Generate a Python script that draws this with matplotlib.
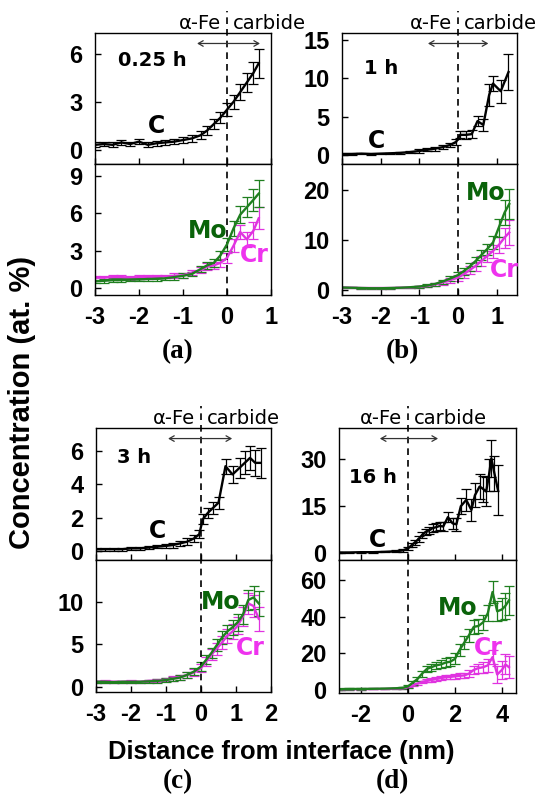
import matplotlib
matplotlib.use('Agg')
import matplotlib.pyplot as plt

plt.rcParams['axes.unicode_minus'] = False

# ---- panel (a) 0.25 h ----
x_a = [-3.0, -2.8, -2.6, -2.4, -2.2, -2.0, -1.8, -1.6, -1.4, -1.2, -1.0, -0.8,
       -0.6, -0.45, -0.3, -0.15, 0.0, 0.15, 0.3, 0.45, 0.6, 0.72]
c_a = [0.3, 0.35, 0.3, 0.45, 0.35, 0.5, 0.3, 0.4, 0.45, 0.5, 0.6, 0.7,
       0.9, 1.2, 1.6, 2.0, 2.5, 3.0, 3.6, 4.2, 4.8, 5.4]
c_a_err = [0.15, 0.15, 0.15, 0.15, 0.15, 0.15, 0.15, 0.15, 0.15, 0.15, 0.2, 0.2,
           0.25, 0.3, 0.3, 0.35, 0.4, 0.45, 0.5, 0.6, 0.7, 0.9]
mo_a = [0.5, 0.55, 0.6, 0.6, 0.65, 0.65, 0.7, 0.7, 0.75, 0.85, 0.95, 1.1,
        1.5, 1.8, 2.0, 2.6, 3.5, 4.8, 5.9, 6.5, 7.1, 7.6]
mo_a_err = [0.15, 0.15, 0.15, 0.15, 0.15, 0.15, 0.15, 0.15, 0.15, 0.2, 0.2, 0.2,
            0.25, 0.3, 0.35, 0.4, 0.5, 0.6, 0.7, 0.8, 0.9, 1.1]
cr_a = [0.8, 0.8, 0.85, 0.85, 0.8, 0.85, 0.85, 0.9, 0.9, 0.95, 1.0, 1.2,
        1.4, 1.7, 1.8, 2.0, 2.4, 3.4, 4.5, 3.9, 4.6, 5.6]
cr_a_err = [0.15, 0.15, 0.15, 0.15, 0.15, 0.15, 0.15, 0.15, 0.15, 0.2, 0.2, 0.2,
            0.25, 0.3, 0.3, 0.35, 0.4, 0.5, 0.6, 0.6, 0.7, 0.9]

# ---- panel (b) 1 h ----
xc_b = [-3.0, -2.75, -2.5, -2.25, -2.0, -1.75, -1.5, -1.25, -1.0, -0.8, -0.6, -0.4,
        -0.2, -0.05, 0.05, 0.2, 0.35, 0.5, 0.65, 0.8, 0.9, 1.1, 1.3]
c_b = [0.1, 0.1, 0.15, 0.1, 0.15, 0.2, 0.25, 0.35, 0.5, 0.65, 0.8, 1.0,
       1.3, 1.7, 2.6, 2.6, 2.7, 4.4, 3.9, 7.8, 9.3, 8.3, 10.8]
c_b_err = [0.1, 0.1, 0.1, 0.1, 0.1, 0.1, 0.1, 0.15, 0.2, 0.2, 0.25, 0.3,
           0.3, 0.4, 0.45, 0.5, 0.5, 0.7, 0.8, 1.4, 1.0, 1.5, 2.4]
xm_b = [-3.0, -2.75, -2.5, -2.25, -2.0, -1.75, -1.5, -1.25, -1.0, -0.8, -0.6, -0.4,
        -0.2, 0.0, 0.15, 0.3, 0.45, 0.6, 0.75, 0.9, 1.05, 1.2, 1.32]
mo_b = [0.5, 0.45, 0.4, 0.35, 0.35, 0.4, 0.45, 0.55, 0.7, 0.9, 1.2, 1.7,
        2.3, 3.0, 3.8, 4.7, 5.8, 7.0, 8.2, 9.5, 12.5, 15.5, 17.2]
mo_b_err = [0.1, 0.1, 0.1, 0.1, 0.1, 0.1, 0.1, 0.15, 0.2, 0.25, 0.3, 0.4,
            0.5, 0.6, 0.7, 0.8, 0.9, 1.0, 1.1, 1.3, 1.8, 2.5, 3.0]
cr_b = [0.5, 0.45, 0.4, 0.4, 0.4, 0.4, 0.45, 0.5, 0.65, 0.8, 1.1, 1.5,
        2.0, 2.5, 3.2, 4.0, 4.8, 5.8, 6.8, 7.8, 9.0, 10.5, 11.5]
cr_b_err = [0.1, 0.1, 0.1, 0.1, 0.1, 0.1, 0.1, 0.15, 0.2, 0.25, 0.3, 0.4,
            0.5, 0.6, 0.7, 0.8, 0.9, 1.0, 1.1, 1.3, 1.6, 2.0, 2.5]

# ---- panel (c) 3 h ----
xc_c = [-3.0, -2.75, -2.5, -2.25, -2.0, -1.75, -1.5, -1.25, -1.0, -0.8, -0.6, -0.4,
        -0.2, -0.05, 0.05, 0.2, 0.35, 0.5, 0.7, 0.9, 1.1, 1.25, 1.4, 1.55, 1.7]
c_c = [0.1, 0.1, 0.1, 0.1, 0.15, 0.15, 0.2, 0.25, 0.3, 0.35, 0.45, 0.55,
       0.75, 1.0, 1.9, 2.3, 2.6, 2.9, 5.1, 4.6, 5.0, 5.3, 5.6, 5.3, 5.3]
c_c_err = [0.1, 0.1, 0.1, 0.1, 0.1, 0.1, 0.1, 0.1, 0.1, 0.15, 0.15, 0.2,
           0.2, 0.25, 0.3, 0.3, 0.35, 0.35, 0.45, 0.5, 0.6, 0.7, 0.7, 0.8, 0.9]
xm_c = [-3.0, -2.75, -2.5, -2.25, -2.0, -1.75, -1.5, -1.25, -1.0, -0.8, -0.6, -0.4,
        -0.2, 0.0, 0.15, 0.3, 0.45, 0.6, 0.75, 0.9, 1.05, 1.2, 1.35, 1.5, 1.65]
mo_c = [0.6, 0.6, 0.55, 0.6, 0.6, 0.6, 0.65, 0.7, 0.8, 0.95, 1.1, 1.4,
        1.8, 2.4, 3.2, 4.0, 4.9, 5.8, 6.5, 7.0, 7.6, 8.5, 10.2, 10.5, 9.8]
mo_c_err = [0.15, 0.15, 0.15, 0.15, 0.15, 0.15, 0.15, 0.2, 0.2, 0.25, 0.3, 0.35,
            0.4, 0.5, 0.55, 0.6, 0.7, 0.75, 0.8, 0.9, 1.0, 1.1, 1.2, 1.4, 1.5]
cr_c = [0.6, 0.65, 0.6, 0.6, 0.65, 0.6, 0.7, 0.75, 0.85, 1.0, 1.15, 1.4,
        1.7, 2.2, 3.0, 3.8, 4.5, 5.2, 6.0, 6.5, 7.2, 8.3, 9.8, 9.5, 8.0]
cr_c_err = [0.15, 0.15, 0.15, 0.15, 0.15, 0.15, 0.15, 0.2, 0.2, 0.25, 0.3, 0.35,
            0.4, 0.5, 0.55, 0.6, 0.7, 0.75, 0.8, 0.9, 1.0, 1.1, 1.2, 1.3, 1.4]

# ---- panel (d) 16 h ----
xc_d = [-3.0, -2.5, -2.0, -1.5, -1.0, -0.5, -0.2, 0.0, 0.15, 0.3, 0.45, 0.6,
        0.75, 0.9, 1.05, 1.2, 1.35, 1.5, 1.7, 1.9, 2.06, 2.25, 2.48, 2.7,
        2.85, 3.05, 3.2, 3.33, 3.45, 3.55, 3.68, 3.83]
c_d = [0.2, 0.2, 0.3, 0.3, 0.4, 0.6, 0.9, 1.5, 2.5, 3.5, 4.5, 5.8,
       6.8, 7.3, 8.0, 8.3, 8.7, 8.5, 11.5, 9.5, 9.2, 15.0, 17.0, 13.8,
       18.5, 21.3, 20.5, 19.7, 25.0, 30.3, 25.5, 20.2]
c_d_err = [0.2, 0.2, 0.2, 0.2, 0.2, 0.3, 0.4, 0.5, 0.7, 0.8, 0.9, 1.0,
           1.0, 1.1, 1.2, 1.2, 1.3, 1.4, 1.6, 1.8, 2.0, 2.6, 3.5, 3.6,
           3.8, 4.0, 4.2, 4.5, 5.0, 6.0, 5.5, 8.0]
xm_d = [-3.0, -2.5, -2.0, -1.5, -1.0, -0.5, -0.2, 0.0, 0.2, 0.4, 0.6, 0.8,
        1.0, 1.2, 1.4, 1.6, 1.8, 2.0, 2.2, 2.4, 2.6, 2.8, 3.0, 3.2,
        3.4, 3.6, 3.8, 4.0, 4.15, 4.3]
mo_d = [0.5, 0.6, 0.6, 0.7, 0.8, 1.0, 1.3, 2.0, 4.0, 6.0, 9.0, 11.5,
        12.5, 13.5, 14.0, 15.0, 15.5, 17.0, 22.0, 26.0, 30.0, 34.5, 35.0, 37.0,
        42.0, 53.5, 43.0, 44.0, 46.0, 49.0]
mo_d_err = [0.3, 0.3, 0.3, 0.3, 0.3, 0.4, 0.5, 0.8, 1.0, 1.3, 1.6, 1.8,
            2.0, 2.0, 2.2, 2.4, 2.6, 3.0, 3.2, 3.4, 3.6, 3.8, 4.0, 4.2,
            4.5, 6.0, 5.5, 6.0, 7.0, 8.0]
cr_d = [0.5, 0.5, 0.5, 0.6, 0.6, 0.8, 1.0, 1.5, 2.5, 3.5, 4.5, 5.0,
        5.5, 6.0, 6.5, 7.0, 7.2, 7.5, 7.8, 8.0, 9.0, 11.0, 12.0, 12.5,
        13.5, 18.0, 8.5, 11.0, 14.0, 12.5]
cr_d_err = [0.2, 0.2, 0.2, 0.2, 0.2, 0.3, 0.3, 0.4, 0.5, 0.6, 0.7, 0.8,
            0.9, 1.0, 1.0, 1.1, 1.2, 1.3, 1.4, 1.5, 1.7, 2.0, 2.5, 3.0,
            3.5, 4.0, 4.5, 5.0, 5.5, 6.0]

panels = [
    dict(box=(95, 33, 271, 164, 295), xlim=(-3, 1.0), xticks=[-3, -2, -1, 0, 1],
         top_ylim=(-0.9, 7.3), top_yticks=[0, 3, 6], bot_ylim=(-0.6, 10.0), bot_yticks=[0, 3, 6, 9],
         xc=x_a, c=c_a, ce=c_a_err, xm=x_a, mo=mo_a, moe=mo_a_err, cr=cr_a, cre=cr_a_err,
         time='0.25 h', time_xy=(-1.7, 5.6), c_xy=(-1.6, 1.5), mo_xy=(-0.45, 4.6), cr_xy=(0.62, 2.6),
         arrow=(-0.68, 0.75), letter='(a)', letter_xy=(178, 352)),
    dict(box=(342, 33, 517, 164, 295), xlim=(-3, 1.52), xticks=[-3, -2, -1, 0, 1],
         top_ylim=(-1.2, 15.9), top_yticks=[0, 5, 10, 15], bot_ylim=(-1.0, 25.2), bot_yticks=[0, 10, 20],
         xc=xc_b, c=c_b, ce=c_b_err, xm=xm_b, mo=mo_b, moe=mo_b_err, cr=cr_b, cre=cr_b_err,
         time='1 h', time_xy=(-2.0, 11.3), c_xy=(-2.1, 1.8), mo_xy=(0.7, 19.4), cr_xy=(1.2, 4.0),
         arrow=(-0.78, 0.78), letter='(b)', letter_xy=(402, 352)),
    dict(box=(96, 428, 271, 560, 692), xlim=(-3, 2.0), xticks=[-3, -2, -1, 0, 1, 2],
         top_ylim=(-0.55, 7.4), top_yticks=[0, 2, 4, 6], bot_ylim=(-0.6, 14.9), bot_yticks=[0, 5, 10],
         xc=xc_c, c=c_c, ce=c_c_err, xm=xm_c, mo=mo_c, moe=mo_c_err, cr=cr_c, cre=cr_c_err,
         time='3 h', time_xy=(-1.9, 5.6), c_xy=(-1.25, 1.2), mo_xy=(0.55, 10.0), cr_xy=(1.4, 4.6),
         arrow=(-0.94, 0.89), letter='(c)', letter_xy=(178, 782)),
    dict(box=(339, 428, 516, 560, 693), xlim=(-2.94, 4.6), xticks=[-2, 0, 2, 4],
         top_ylim=(-2.2, 40), top_yticks=[0, 15, 30], bot_ylim=(-1.6, 71), bot_yticks=[0, 20, 40, 60],
         xc=xc_d, c=c_d, ce=c_d_err, xm=xm_d, mo=mo_d, moe=mo_d_err, cr=cr_d, cre=cr_d_err,
         time='16 h', time_xy=(-1.5, 24.3), c_xy=(-1.3, 4.2), mo_xy=(2.1, 44.6), cr_xy=(3.4, 23.0),
         arrow=(-1.2, 1.28), letter='(d)', letter_xy=(392, 782)),
]

W, H = 543, 800
GREEN = '#1f7f1f'
GREEN_TXT = '#0a630a'
MAGENTA = '#e033e0'
MAGENTA_TXT = '#ee33ee'
BOLD = dict(family='DejaVu Sans', weight='bold')

fig = plt.figure(figsize=(W / 100, H / 100), dpi=100)


def add_ax(x0, y0, x1, y1):
    return fig.add_axes([x0 / W, 1 - y1 / H, (x1 - x0) / W, (y1 - y0) / H])


def style(ax, xlim, xticks, ylim, yticks, show_x):
    ax.set_xlim(*xlim)
    ax.set_ylim(*ylim)
    ax.set_xticks(xticks)
    ax.set_yticks(yticks)
    ax.tick_params(direction='in', length=4, width=1, top=False, right=False)
    ax.tick_params(axis='y', labelsize=17, pad=9)
    ax.tick_params(axis='x', labelsize=17, pad=8)
    for lab in ax.get_xticklabels() + ax.get_yticklabels():
        lab.set_fontweight('bold')
        lab.set_family('Liberation Sans')
    if not show_x:
        ax.tick_params(axis='x', labelbottom=False)
    for s in ax.spines.values():
        s.set_linewidth(1.0)


eb = dict(lw=1.7, elinewidth=0.9, capsize=3.5, capthick=0.9)

for p in panels:
    x0, y0, x1, ym, y1 = p['box']
    top = add_ax(x0, y0, x1, ym)
    bot = add_ax(x0, ym, x1, y1)
    style(top, p['xlim'], p['xticks'], p['top_ylim'], p['top_yticks'], False)
    style(bot, p['xlim'], p['xticks'], p['bot_ylim'], p['bot_yticks'], True)

    top.errorbar(p['xc'], p['c'], yerr=p['ce'], color='black', **eb)
    bot.errorbar(p['xm'], p['cr'], yerr=p['cre'], color=MAGENTA, **eb)
    bot.errorbar(p['xm'], p['mo'], yerr=p['moe'], color=GREEN, **eb)

    # interface line
    top.plot([0, 0], [0, 1.17], transform=top.get_xaxis_transform(), color='black',
             lw=1.2, ls=(0, (4, 3)), clip_on=False)
    bot.plot([0, 0], [0, 1], transform=bot.get_xaxis_transform(), color='black',
             lw=1.2, ls=(0, (4, 3)), clip_on=False)

    tr = top.get_xaxis_transform()
    span = p['xlim'][1] - p['xlim'][0]
    top.text(-0.035 * span, 1.075, '\u03b1-Fe', transform=tr,
             ha='right', va='center', fontsize=14, family='DejaVu Sans')
    top.text(0.035 * span, 1.075, 'carbide', transform=tr,
             ha='left', va='center', fontsize=14, family='DejaVu Sans')
    top.annotate('', xy=(p['arrow'][0], 0.92), xytext=(p['arrow'][1], 0.92),
                 xycoords=tr, textcoords=tr,
                 arrowprops=dict(arrowstyle='<->,head_length=0.35,head_width=0.2',
                                 color='#333333', lw=0.9, shrinkA=0, shrinkB=0))

    top.text(*p['time_xy'], p['time'], ha='center', va='center', fontsize=14, **BOLD)
    top.text(*p['c_xy'], 'C', ha='center', va='center', fontsize=17, **BOLD)
    bot.text(*p['mo_xy'], 'Mo', ha='center', va='center', fontsize=17, color=GREEN_TXT, **BOLD)
    bot.text(*p['cr_xy'], 'Cr', ha='center', va='center', fontsize=17, color=MAGENTA_TXT, **BOLD)

    fig.text(p['letter_xy'][0] / W, 1 - p['letter_xy'][1] / H, p['letter'],
             ha='center', va='center', fontsize=19.5, family='Liberation Serif', weight='bold')

fig.text(22 / W, 1 - 402 / H, 'Concentration (at. %)', rotation=90, ha='center', va='center',
         fontsize=21, family='Liberation Sans', weight='bold')
fig.text(281 / W, 1 - 752 / H, 'Distance from interface (nm)', ha='center', va='center',
         fontsize=18.4, family='Liberation Sans', weight='bold')

fig.savefig('out.png', dpi=100)
